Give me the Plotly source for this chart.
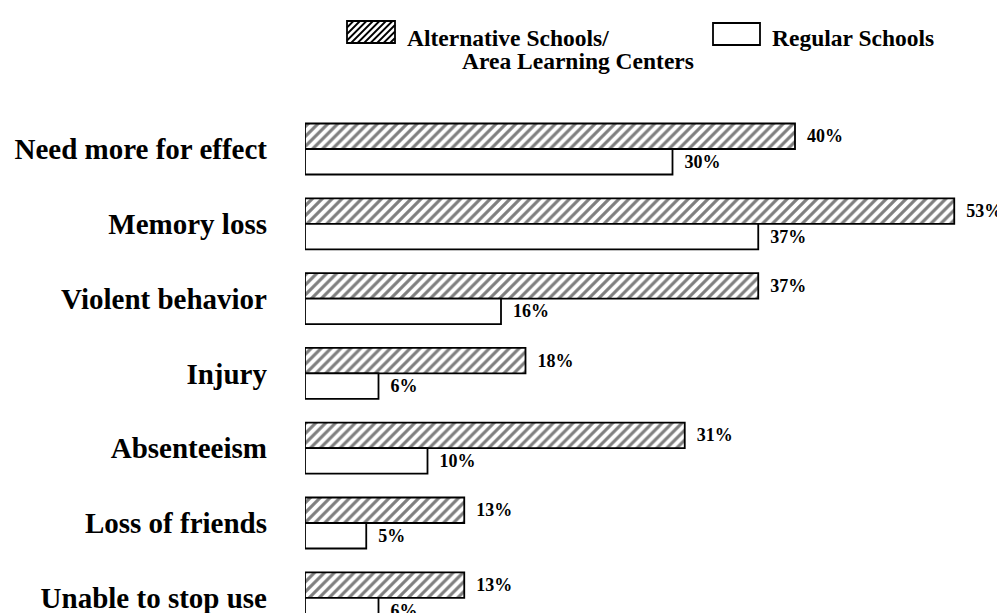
import plotly.graph_objects as go

categories = ["Need more for effect", "Memory loss", "Violent behavior", "Injury",
              "Absenteeism", "Loss of friends", "Unable to stop use"]
alternative = [40, 53, 37, 18, 31, 13, 13]
regular = [30, 37, 16, 6, 10, 5, 6]
series_names = ["Alternative Schools/ Area Learning Centers", "Regular Schools"]

W, H = 1005, 613
L = 297
PW = W - L
FONT = "Liberation Serif"
PX_PER_PCT = 12.25


def px(x):
    return (x - L) / PW


def py(y):
    return 1 - y / H


label_tpl = "\u00a0\u00a0%{x}%"
label_font = dict(family=FONT, size=18, color="black", weight="bold")

fig = go.Figure()
fig.add_trace(go.Bar(
    y=categories, x=alternative, orientation="h", name=series_names[0],
    marker=dict(color="white", line=dict(color="black", width=1.8),
                pattern=dict(shape="/", size=7, solidity=0.45, fgcolor="black", bgcolor="white")),
    texttemplate=label_tpl, textposition="outside", cliponaxis=False,
    constraintext="none", textfont=label_font,
))
fig.add_trace(go.Bar(
    y=categories, x=regular, orientation="h", name=series_names[1],
    marker=dict(color="white", line=dict(color="black", width=1.8)),
    texttemplate=label_tpl, textposition="outside", cliponaxis=False,
    constraintext="none", textfont=label_font,
))

# legend drawn as shapes + text
shapes = []
bx0, bx1, by0, by1 = 339, 387, 13, 35
shapes.append(dict(type="rect", xref="paper", yref="paper", x0=px(bx0), x1=px(bx1),
                   y0=py(by1), y1=py(by0), line=dict(color="black", width=1.8),
                   fillcolor="white"))
h = by1 - by0
path = ""
c = bx0 - h
while c < bx1:
    sx, sy = c, by1
    if sx < bx0:
        sy = by1 - (bx0 - c)
        sx = bx0
    ex, ey = c + h, by0
    if ex > bx1:
        ey = by1 - (bx1 - c)
        ex = bx1
    path += f"M{px(sx)},{py(sy)} L{px(ex)},{py(ey)} "
    c += 6.5
shapes.append(dict(type="path", xref="paper", yref="paper", path=path,
                   line=dict(color="black", width=1.8)))
shapes.append(dict(type="rect", xref="paper", yref="paper", x0=px(705), x1=px(752),
                   y0=py(37), y1=py(15), line=dict(color="black", width=1.8),
                   fillcolor="white"))

legend_font = dict(family=FONT, size=23.5, color="black", weight="bold")
annotations = [
    dict(text="Alternative Schools/", x=px(397), y=py(30), xref="paper", yref="paper",
         xanchor="left", yanchor="middle", showarrow=False, font=legend_font),
    dict(text="Area Learning Centers", x=px(452), y=py(53), xref="paper", yref="paper",
         xanchor="left", yanchor="middle", showarrow=False, font=legend_font),
    dict(text="Regular Schools", x=px(762), y=py(30), xref="paper", yref="paper",
         xanchor="left", yanchor="middle", showarrow=False, font=legend_font),
]

fig.update_layout(
    width=W, height=H, barmode="group", bargap=0.318, bargroupgap=0,
    margin=dict(l=L, r=0, t=0, b=0),
    paper_bgcolor="white", plot_bgcolor="white",
    showlegend=False, shapes=shapes, annotations=annotations,
    xaxis=dict(range=[0, PW / PX_PER_PCT], visible=False, showgrid=False, zeroline=False),
    yaxis=dict(categoryorder="array", categoryarray=categories,
               range=[(H - 141) / 74.8, -141 / 74.8],
               showgrid=False, zeroline=False, showline=False, ticks="",
               ticklabelstandoff=37,
               tickfont=dict(family=FONT, size=29, color="black", weight="bold")),
)

fig.write_html("out.html", config={"displayModeBar": False})
